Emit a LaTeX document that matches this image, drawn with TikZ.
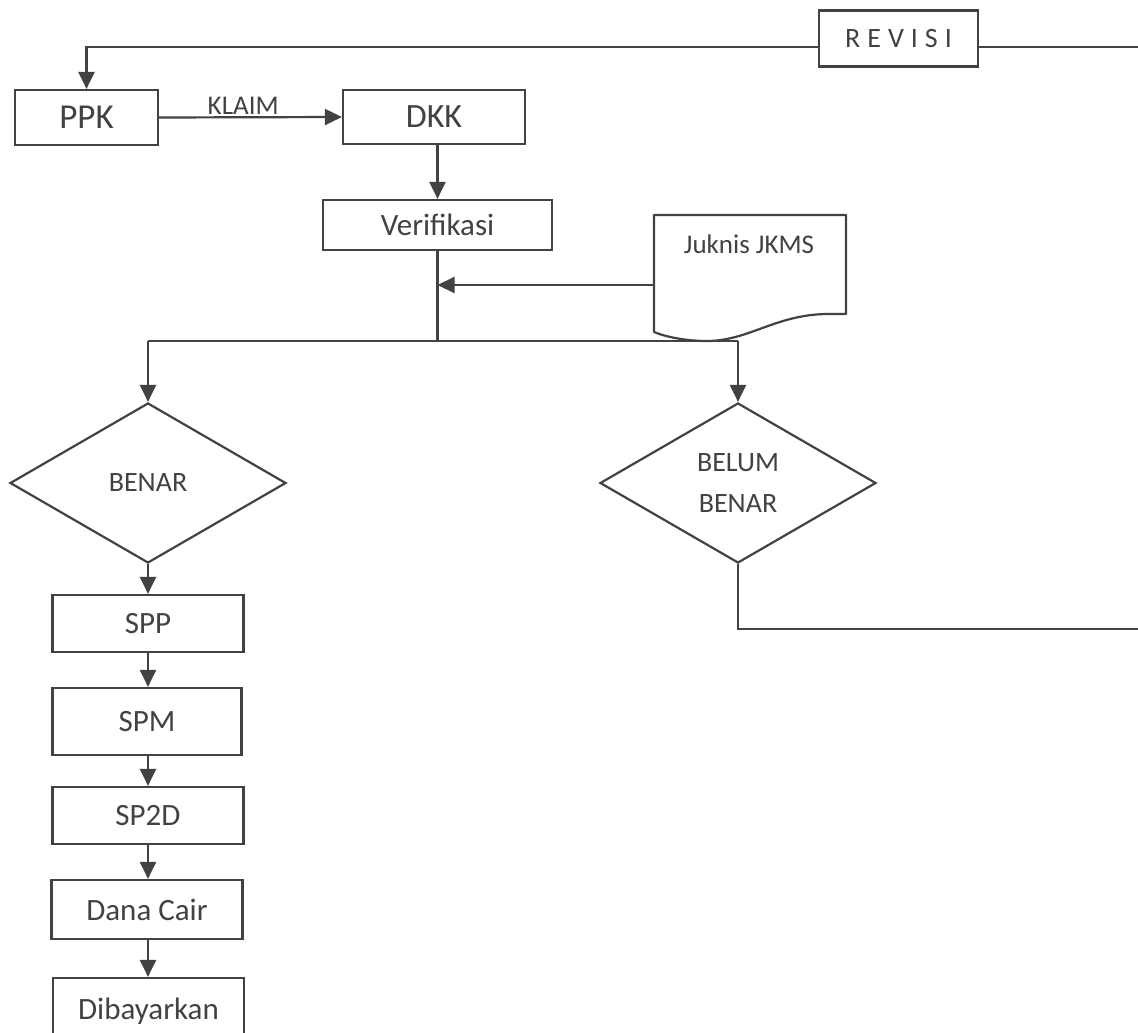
\documentclass[tikz,border=0pt]{standalone}
\usepackage{fontspec}
\setmainfont{Carlito}
\newfontfamily\spacedfont[LetterSpace=25]{Carlito}
\usetikzlibrary{shapes.geometric,arrows.meta}
\definecolor{ink}{RGB}{66,66,66}
\begin{document}
\begin{tikzpicture}[x=1pt,y=-1pt,
  box/.style={draw=ink,line width=2.2pt,rectangle,inner sep=0pt,text=ink,font=\fontsize{31}{37}\selectfont},
  dec/.style={draw=ink,line width=2.2pt,diamond,aspect=1.725,inner sep=0pt,text=ink,
    font=\fontsize{28}{41}\selectfont,align=center,minimum width=276pt,minimum height=160pt},
  lbl/.style={text=ink,inner sep=0pt},
  conn/.style={draw=ink,line width=2.2pt},
  arr/.style={conn,-{Triangle[length=17pt,width=16pt]}}]
\useasboundingbox (0,0) rectangle (1138,1033);
\fill[white] (0,0) rectangle (1138,1033);
\clip (0,0) rectangle (1138,1033);

% boxes
\node[box,minimum width=143pt,minimum height=55pt,font=\fontsize{35}{40}\selectfont] (ppk) at (86.5,117.5) {PPK};
\node[box,minimum width=182pt,minimum height=54pt,font=\fontsize{34}{40}\selectfont] (dkk) at (434,117) {DKK};
\node[box,minimum width=229pt,minimum height=50pt] (verif) at (437.5,225) {Verifikasi};
\node[box,minimum width=159pt,minimum height=56pt,font=\spacedfont\fontsize{28}{34}\selectfont] (rev) at (898.5,38.5) {REVISI};

% document shape
\draw[ink,line width=2.2pt,line join=round] (654,215) -- (846,215) -- (846,314) -- (826,314)
  .. controls (775,315) and (748,341) .. (707,341)
  .. controls (686,341) and (666,337) .. (654,332) -- cycle;
\node[lbl,anchor=base,font=\fontsize{27}{32}\selectfont] (jk) at (749,253) {Juknis JKMS};
\coordinate (jkw) at (654,285);

% decisions
\node[dec] (benar) at (148,483) {BENAR};
\node[dec] (belum) at (738,483) {BELUM\\BENAR};

% chain
\node[box,minimum width=191pt,minimum height=57pt] (spp) at (148,623.5) {SPP};
\node[box,minimum width=189pt,minimum height=67pt] (spm) at (147,721.5) {SPM};
\node[box,minimum width=191pt,minimum height=57pt] (sp2d) at (148,815.5) {SP2D};
\node[box,minimum width=191pt,minimum height=59pt] (dana) at (147,909.5) {Dana Cair};
\node[box,minimum width=191pt,minimum height=67pt] (bayar) at (148.5,1011.5) {Dibayarkan};

% coordinates
\coordinate (jn) at (437.5,341);
\coordinate (revl) at (819,47);
\coordinate (revr) at (978,47);
\coordinate (edgeT) at (1140,47);
\coordinate (edgeB) at (1140,629);
\coordinate (cx) at (148,0);

% connectors
\draw[arr] (revl) -| (ppk.north);
\draw[conn] (revr) -- (edgeT);
\draw[arr] (ppk.east) -- node[lbl,pos=0.46,above=2pt,font=\fontsize{27}{32}\selectfont] (klaim) {KLAIM} (dkk.west);
\draw[arr] (verif.north |- dkk.south) -- (verif.north);
\draw[conn] (verif.south) -- (jn);
\draw[arr] (jkw) -- (jkw -| verif.south);
\draw[conn] (benar.north |- jn) -- (belum.north |- jn);
\draw[arr] (benar.north |- jn) -- (benar.north);
\draw[arr] (belum.north |- jn) -- (belum.north);
\draw[conn] (belum.south) |- (edgeB);
\draw[arr] (benar.south) -- (spp.north -| benar.south);
\draw[arr] (cx |- spp.south) -- (cx |- spm.north);
\draw[arr] (cx |- spm.south) -- (cx |- sp2d.north);
\draw[arr] (cx |- sp2d.south) -- (cx |- dana.north);
\draw[arr] (cx |- dana.south) -- (cx |- bayar.north);
\end{tikzpicture}
\end{document}
